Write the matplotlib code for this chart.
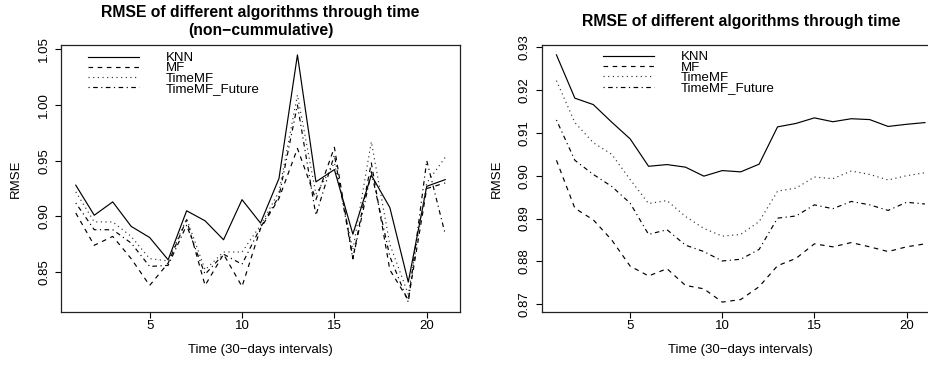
import matplotlib
matplotlib.use("Agg")
import matplotlib.pyplot as plt

plt.rcParams['font.family'] = ['Liberation Sans', 'DejaVu Sans']
plt.rcParams['lines.scale_dashes'] = False

# ---------------- data ----------------
time = list(range(1, 22))

# left panel: non-cumulative RMSE
knn_nc = [0.928, 0.901, 0.913, 0.891, 0.881, 0.861, 0.905, 0.896, 0.879, 0.915, 0.894,
          0.934, 1.045, 0.931, 0.942, 0.884, 0.937, 0.908, 0.841, 0.927, 0.933]
mf_nc = [0.903, 0.874, 0.882, 0.862, 0.838, 0.858, 0.897, 0.838, 0.866, 0.837, 0.889,
         0.916, 0.961, 0.915, 0.962, 0.862, 0.948, 0.852, 0.825, 0.925, 0.930]
timemf_nc = [0.922, 0.895, 0.895, 0.882, 0.862, 0.860, 0.898, 0.852, 0.868, 0.868, 0.892,
             0.922, 1.009, 0.920, 0.948, 0.870, 0.967, 0.875, 0.830, 0.930, 0.953]
timemff_nc = [0.912, 0.888, 0.888, 0.876, 0.855, 0.856, 0.892, 0.848, 0.866, 0.857, 0.890,
              0.918, 1.000, 0.901, 0.955, 0.862, 0.940, 0.864, 0.823, 0.950, 0.884]

# right panel: cumulative RMSE
knn_c = [0.9282, 0.9181, 0.9166, 0.9125, 0.9086, 0.9022, 0.9026, 0.9020, 0.8999, 0.9012, 0.9009,
         0.9027, 0.9114, 0.9122, 0.9135, 0.9126, 0.9133, 0.9131, 0.9115, 0.9120, 0.9124]
mf_c = [0.9036, 0.8924, 0.8897, 0.8850, 0.8789, 0.8766, 0.8783, 0.8744, 0.8736, 0.8705, 0.8711,
        0.8741, 0.8790, 0.8807, 0.8841, 0.8834, 0.8844, 0.8834, 0.8823, 0.8834, 0.8841]
timemf_c = [0.9222, 0.9124, 0.9077, 0.9050, 0.8991, 0.8935, 0.8942, 0.8905, 0.8877, 0.8859, 0.8863,
            0.8893, 0.8964, 0.8971, 0.8997, 0.8993, 0.9011, 0.9003, 0.8990, 0.9000, 0.9007]
timemff_c = [0.9130, 0.9036, 0.9003, 0.8975, 0.8936, 0.8863, 0.8874, 0.8838, 0.8823, 0.8801, 0.8805,
             0.8828, 0.8901, 0.8906, 0.8932, 0.8923, 0.8940, 0.8932, 0.8919, 0.8938, 0.8934]

labels = ["KNN", "MF", "TimeMF", "TimeMF_Future"]
xticks = [5, 10, 15, 20]
yticks_left = [0.85, 0.90, 0.95, 1.00, 1.05]
yticks_right = [0.87, 0.88, 0.89, 0.90, 0.91, 0.92, 0.93]

# ---------------- style ----------------
styles = [
    dict(linestyle='-', color='black'),
    dict(linestyle=(0, (3.3, 3.3)), color='black'),
    dict(linestyle=(0, (0.85, 2.5)), color='#333333'),
    dict(linestyle=(0, (0.85, 2.5, 3.3, 2.5)), color='black'),
]
FS = 9.5
LW = 0.85

fig = plt.figure(figsize=(9.29, 3.69), dpi=100)
ax1 = fig.add_axes([61 / 929, 1 - 312 / 369, 399 / 929, 267 / 369])
ax2 = fig.add_axes([541.7 / 929, 1 - 312 / 369, 398 / 929, 267 / 369])


def r_ylim(series):
    lo = min(min(s) for s in series)
    hi = max(max(s) for s in series)
    pad = 0.04 * (hi - lo)
    return lo - pad, hi + pad


def draw(ax, series, yticks, ylabels, title, title_pad, legend_anchor):
    for s, st, lab in zip(series, styles, labels):
        ax.plot(time, s, linewidth=LW, label=lab, **st)
    ax.set_xlim(1 - 0.04 * 20, 21 + 0.04 * 20)
    ax.set_ylim(*r_ylim(series))
    ax.set_xticks(xticks)
    ax.set_xticklabels([str(t) for t in xticks], fontsize=FS)
    ax.set_yticks(yticks)
    ax.set_yticklabels(ylabels, fontsize=FS, rotation=90, va='center')
    ax.tick_params(direction='out', length=4.3, width=0.8, color='black')
    ax.tick_params(axis='x', pad=1.5)
    ax.tick_params(axis='y', pad=3.5)
    for sp in ax.spines.values():
        sp.set_linewidth(0.9)
        sp.set_color('#222222')
    ax.set_xlabel("Time (30\u2212days intervals)", fontsize=FS, labelpad=8.8)
    ax.set_ylabel("RMSE", fontsize=FS, labelpad=11.5)
    ax.set_title(title, fontsize=11.3, fontweight='bold', pad=title_pad, linespacing=1.18)
    ax.legend(loc='upper left', bbox_to_anchor=legend_anchor, frameon=False,
              fontsize=FS, handlelength=3.9, handletextpad=2.0,
              labelspacing=-0.15, borderpad=0, borderaxespad=0)


draw(ax1, [knn_nc, mf_nc, timemf_nc, timemff_nc], yticks_left,
     ["%.2f" % v for v in yticks_left],
     "RMSE of different algorithms through time\n(non\u2212cummulative)", 7.5, (0.067, 0.974))
draw(ax2, [knn_c, mf_c, timemf_c, timemff_c], yticks_right,
     ["%.2f" % v for v in yticks_right],
     "RMSE of different algorithms through time", 14.0, (0.153, 0.977))

fig.savefig("out.png", dpi=100)
